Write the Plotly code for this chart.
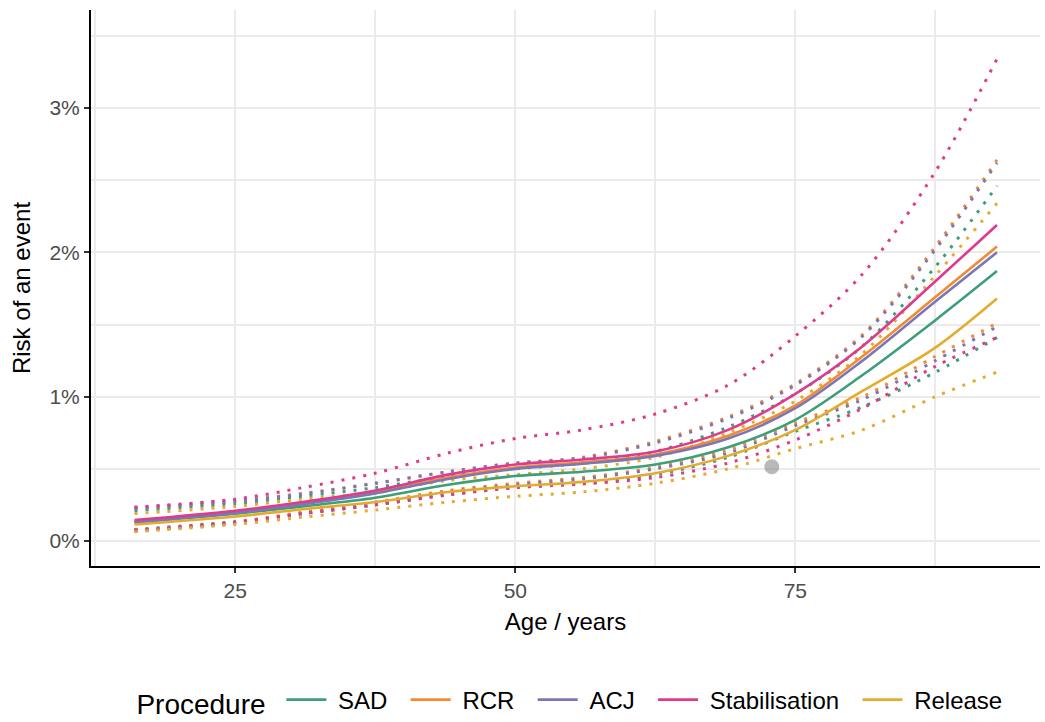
import plotly.graph_objects as go

ages = [16, 25, 31, 37.5, 44, 50, 56, 62.5, 69, 75, 81, 87.5, 93]

procedures = ["SAD", "RCR", "ACJ", "Stabilisation", "Release"]

sad_mid = [0.13, 0.19, 0.24, 0.30, 0.39, 0.45, 0.48, 0.53, 0.65, 0.84, 1.15, 1.53, 1.87]
sad_hi = [0.21, 0.26, 0.31, 0.37, 0.45, 0.50, 0.54, 0.62, 0.79, 1.02, 1.35, 1.90, 2.46]
sad_lo = [0.08, 0.135, 0.19, 0.25, 0.32, 0.37, 0.40, 0.46, 0.58, 0.76, 0.93, 1.17, 1.41]

rcr_mid = [0.135, 0.20, 0.26, 0.34, 0.44, 0.51, 0.545, 0.60, 0.73, 0.94, 1.28, 1.69, 2.04]
rcr_hi = [0.23, 0.28, 0.33, 0.40, 0.48, 0.54, 0.58, 0.69, 0.86, 1.09, 1.43, 2.04, 2.64]
rcr_lo = [0.075, 0.13, 0.20, 0.27, 0.35, 0.40, 0.44, 0.51, 0.63, 0.82, 1.00, 1.28, 1.51]

acj_mid = [0.13, 0.195, 0.255, 0.33, 0.43, 0.50, 0.535, 0.59, 0.71, 0.92, 1.25, 1.66, 2.00]
acj_hi = [0.225, 0.275, 0.325, 0.40, 0.48, 0.54, 0.575, 0.68, 0.85, 1.08, 1.42, 2.02, 2.62]
acj_lo = [0.07, 0.125, 0.19, 0.26, 0.34, 0.39, 0.43, 0.50, 0.61, 0.80, 0.98, 1.25, 1.485]

stab_mid = [0.145, 0.21, 0.27, 0.35, 0.46, 0.53, 0.565, 0.62, 0.77, 1.02, 1.35, 1.80, 2.19]
stab_hi = [0.235, 0.29, 0.37, 0.47, 0.61, 0.71, 0.77, 0.88, 1.08, 1.42, 1.85, 2.56, 3.34]
stab_lo = [0.075, 0.13, 0.19, 0.25, 0.32, 0.37, 0.395, 0.44, 0.54, 0.70, 0.92, 1.21, 1.41]

rel_mid = [0.115, 0.17, 0.22, 0.27, 0.34, 0.38, 0.41, 0.47, 0.59, 0.77, 1.04, 1.34, 1.68]
rel_hi = [0.19, 0.24, 0.29, 0.34, 0.42, 0.46, 0.50, 0.58, 0.75, 0.97, 1.30, 1.84, 2.34]
rel_lo = [0.065, 0.115, 0.165, 0.215, 0.27, 0.31, 0.34, 0.40, 0.50, 0.64, 0.77, 1.00, 1.17]

point_age = [72.9]
point_risk = [0.515]

y_ticks = [0, 1, 2, 3]
y_ticktext = ["0%", "1%", "2%", "3%"]
x_ticks = [25, 50, 75]

colors = {
    "SAD": "#3D9E7A",
    "RCR": "#F28A33",
    "ACJ": "#7B76B6",
    "Stabilisation": "#E03A8C",
    "Release": "#E3AC2F",
}

series = {
    "SAD": (sad_mid, sad_lo, sad_hi),
    "RCR": (rcr_mid, rcr_lo, rcr_hi),
    "ACJ": (acj_mid, acj_lo, acj_hi),
    "Stabilisation": (stab_mid, stab_lo, stab_hi),
    "Release": (rel_mid, rel_lo, rel_hi),
}

NB = "\u00a0"

fig = go.Figure()

# dotted confidence bounds
for p in procedures:
    mid, lo, hi = series[p]
    for band in (lo, hi):
        fig.add_trace(go.Scatter(
            x=ages, y=band, mode="lines", showlegend=False, hoverinfo="skip",
            line=dict(color=colors[p], width=3, dash="3px,8px", shape="spline", smoothing=0.9),
        ))

# central estimates
for p in procedures:
    mid, lo, hi = series[p]
    fig.add_trace(go.Scatter(
        x=ages, y=mid, mode="lines", name=NB + p + NB * 2,
        line=dict(color=colors[p], width=2.6, shape="spline", smoothing=0.9),
    ))

fig.add_trace(go.Scatter(
    x=point_age, y=point_risk, mode="markers", showlegend=False,
    marker=dict(color="rgba(128,128,128,0.55)", size=15),
))

axis_common = dict(
    showline=True, linecolor="black", linewidth=2,
    ticks="outside", ticklen=5, tickwidth=1.5, tickcolor="#333333",
    tickfont=dict(family="Liberation Sans", size=21, color="#4D4D4D"),
    showgrid=True, gridcolor="#EBEBEB", gridwidth=2,
    zeroline=False, mirror=False, automargin=False,
)

fig.update_xaxes(
    **axis_common,
    range=[12.12, 96.84],
    tickmode="array",
    tickvals=x_ticks,
    minor=dict(tickvals=[12.5, 37.5, 62.5, 87.5], showgrid=True, gridcolor="#EBEBEB", gridwidth=1.6, ticks=""),
    title=dict(text="Age / years", font=dict(family="Liberation Sans", size=24, color="black"), standoff=12),
)
fig.update_yaxes(
    **axis_common,
    range=[-0.173, 3.679],
    tickmode="array",
    tickvals=y_ticks,
    ticktext=y_ticktext,
    minor=dict(tickvals=[0.5, 1.5, 2.5, 3.5], showgrid=True, gridcolor="#EBEBEB", gridwidth=1.6, ticks=""),
    title=dict(text="Risk of an event", font=dict(family="Liberation Sans", size=24, color="black"), standoff=12),
)

fig.update_layout(
    width=1045, height=722,
    margin=dict(l=91, r=5, t=10, b=156),
    plot_bgcolor="white", paper_bgcolor="white",
    font=dict(family="Liberation Sans"),
    legend=dict(
        orientation="h", xref="container", yref="container",
        x=0.553, xanchor="center", y=0.029, yanchor="middle",
        title=dict(text="Procedure" + NB, font=dict(size=28, color="black")),
        font=dict(size=24, color="black"),
        itemwidth=40,
    ),
)

fig.write_html("out.html")
